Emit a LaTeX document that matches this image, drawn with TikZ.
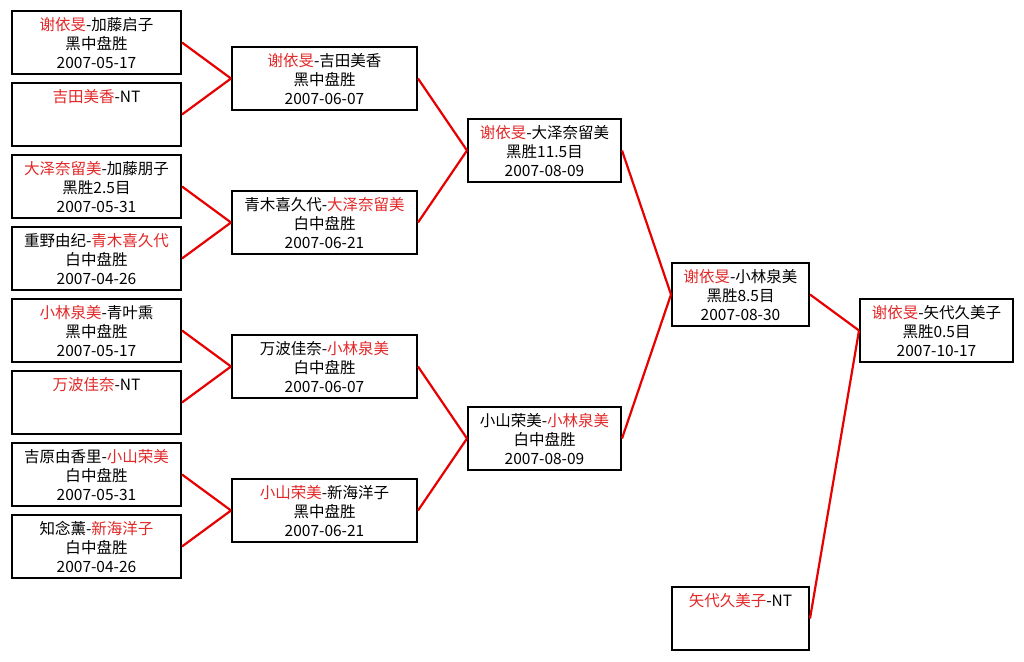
\documentclass[tikz,border=0pt]{standalone}
\usepackage{fontspec}
\setmainfont{Noto Sans CJK SC}
\usetikzlibrary{positioning}
\definecolor{winred}{RGB}{226,40,40}
\definecolor{linkred}{RGB}{232,0,0}
\newcommand{\win}[1]{\textcolor{winred}{#1}}
\newcommand{\gamebox}[2]{\parbox[c][63pt][t]{#1pt}{\centering\fontsize{15.5}{19}\selectfont\rule{0pt}{19.5pt}#2}}

\begin{document}
\begin{tikzpicture}[x=1pt,y=-1pt,
  matchbox/.style={rectangle,draw,line width=2pt,inner sep=0pt,minimum height=63pt},
  link/.style={draw=linkred,line width=2.2pt}]
\useasboundingbox[fill=white] (0,0) rectangle (1024,661);

% Round 1
\node[matchbox] (a1) at (96.5,42.5) {\gamebox{169}{\win{谢依旻}-加藤启子\\黑中盘胜\\2007-05-17}};
\node[matchbox] (a2) at (96.5,114.5) {\gamebox{169}{\win{吉田美香}-NT}};
\node[matchbox] (a3) at (96.5,186.5) {\gamebox{169}{\win{大泽奈留美}-加藤朋子\\黑胜2.5目\\2007-05-31}};
\node[matchbox] (a4) at (96.5,258.5) {\gamebox{169}{重野由纪-\win{青木喜久代}\\白中盘胜\\2007-04-26}};
\node[matchbox] (a5) at (96.5,330.5) {\gamebox{169}{\win{小林泉美}-青叶熏\\黑中盘胜\\2007-05-17}};
\node[matchbox] (a6) at (96.5,402.5) {\gamebox{169}{\win{万波佳奈}-NT}};
\node[matchbox] (a7) at (96.5,474.5) {\gamebox{169}{吉原由香里-\win{小山荣美}\\白中盘胜\\2007-05-31}};
\node[matchbox] (a8) at (96.5,546.5) {\gamebox{169}{知念薰-\win{新海洋子}\\白中盘胜\\2007-04-26}};

% Round 2
\node[matchbox] (b1) at (324.5,78.5) {\gamebox{185}{\win{谢依旻}-吉田美香\\黑中盘胜\\2007-06-07}};
\node[matchbox] (b2) at (324.5,222.5) {\gamebox{185}{青木喜久代-\win{大泽奈留美}\\白中盘胜\\2007-06-21}};
\node[matchbox] (b3) at (324.5,366.5) {\gamebox{185}{万波佳奈-\win{小林泉美}\\白中盘胜\\2007-06-07}};
\node[matchbox] (b4) at (324.5,510.5) {\gamebox{185}{\win{小山荣美}-新海洋子\\黑中盘胜\\2007-06-21}};

% Round 3
\node[matchbox] (c1) at (544.5,150.5) {\gamebox{153}{\win{谢依旻}-大泽奈留美\\黑胜11.5目\\2007-08-09}};
\node[matchbox] (c2) at (544.5,438.5) {\gamebox{153}{小山荣美-\win{小林泉美}\\白中盘胜\\2007-08-09}};

% Round 4 and seeded player
\node[matchbox] (d1) at (740.5,294.5) {\gamebox{137}{\win{谢依旻}-小林泉美\\黑胜8.5目\\2007-08-30}};
\node[matchbox] (d2) at (740.5,618.5) {\gamebox{137}{\win{矢代久美子}-NT}};

% Final
\node[matchbox] (f1) at (936.5,330.5) {\gamebox{153}{\win{谢依旻}-矢代久美子\\黑胜0.5目\\2007-10-17}};

% Connections
\draw[link] (a1.east) -- (b1.west);
\draw[link] (a2.east) -- (b1.west);
\draw[link] (a3.east) -- (b2.west);
\draw[link] (a4.east) -- (b2.west);
\draw[link] (a5.east) -- (b3.west);
\draw[link] (a6.east) -- (b3.west);
\draw[link] (a7.east) -- (b4.west);
\draw[link] (a8.east) -- (b4.west);

\draw[link] (b1.east) -- (c1.west);
\draw[link] (b2.east) -- (c1.west);
\draw[link] (b3.east) -- (c2.west);
\draw[link] (b4.east) -- (c2.west);

\draw[link] (c1.east) -- (d1.west);
\draw[link] (c2.east) -- (d1.west);

\draw[link] (d1.east) -- (f1.west);
\draw[link] (d2.east) -- (f1.west);
\end{tikzpicture}
\end{document}
